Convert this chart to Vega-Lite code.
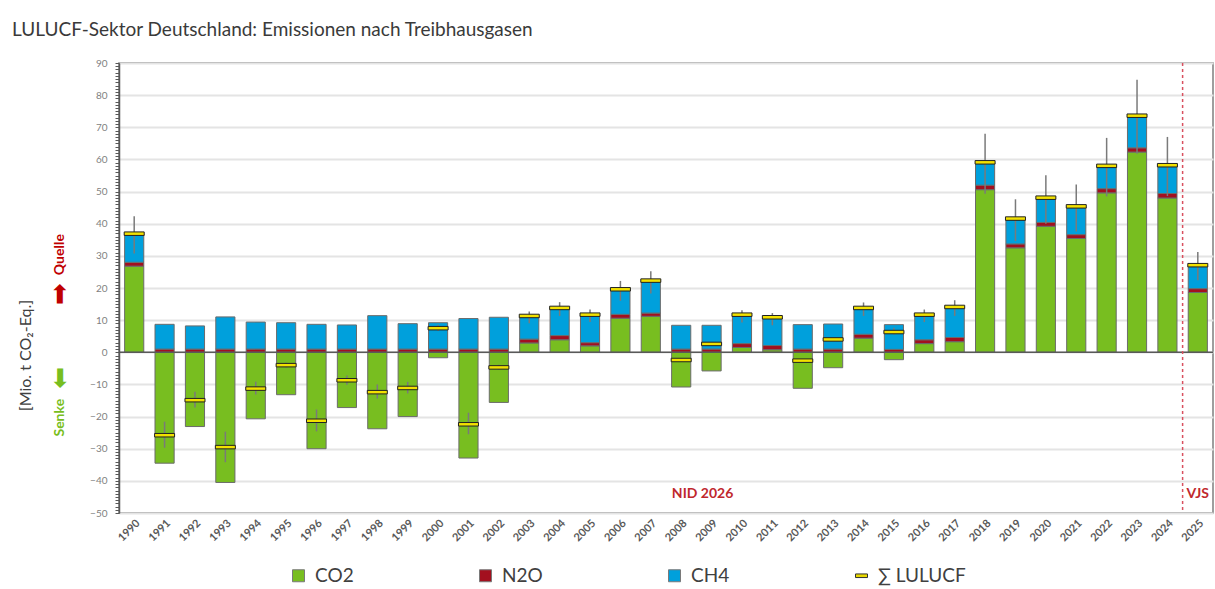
{
  "$schema": "https://vega.github.io/schema/vega-lite/v6.json",
  "width": 1094,
  "height": 450,
  "autosize": {"type": "none"},
  "padding": {"left": 119, "top": 63, "right": 2, "bottom": 76},
  "background": "white",
  "config": {
    "font": "Lato",
    "view": {"stroke": "#7f7f7f", "strokeWidth": 1.5}
  },
  "title": {
    "text": "LULUCF-Sektor Deutschland: Emissionen nach Treibhausgasen",
    "anchor": "start",
    "frame": "group",
    "dx": -107,
    "offset": 18,
    "fontSize": 19,
    "fontWeight": "normal",
    "color": "#3a3a3a"
  },
  "data": {
    "values": [
      {"year": "1990", "CO2": 26.8, "N2O": 1.2, "CH4": 8.9, "total": 36.9, "lo": 30.7, "hi": 42.3},
      {"year": "1991", "CO2": -34.5, "N2O": 1.0, "CH4": 7.7, "total": -25.8, "lo": -29.7, "hi": -21.6},
      {"year": "1992", "CO2": -23.1, "N2O": 1.0, "CH4": 7.2, "total": -14.9, "lo": -17.2, "hi": -12.3},
      {"year": "1993", "CO2": -40.5, "N2O": 1.0, "CH4": 10.0, "total": -29.5, "lo": -34.2, "hi": -24.7},
      {"year": "1994", "CO2": -20.7, "N2O": 1.0, "CH4": 8.4, "total": -11.3, "lo": -13.1, "hi": -9.2},
      {"year": "1995", "CO2": -13.2, "N2O": 1.0, "CH4": 8.2, "total": -4.0, "lo": -4.8, "hi": -3.2},
      {"year": "1996", "CO2": -30.0, "N2O": 1.0, "CH4": 7.7, "total": -21.3, "lo": -24.6, "hi": -17.8},
      {"year": "1997", "CO2": -17.2, "N2O": 1.0, "CH4": 7.5, "total": -8.7, "lo": -10.1, "hi": -7.2},
      {"year": "1998", "CO2": -23.8, "N2O": 1.0, "CH4": 10.4, "total": -12.4, "lo": -14.4, "hi": -10.0},
      {"year": "1999", "CO2": -20.0, "N2O": 1.0, "CH4": 7.9, "total": -11.1, "lo": -12.8, "hi": -9.2},
      {"year": "2000", "CO2": -1.7, "N2O": 1.0, "CH4": 8.2, "total": 7.5, "lo": 6.6, "hi": 8.6},
      {"year": "2001", "CO2": -32.9, "N2O": 1.0, "CH4": 9.5, "total": -22.4, "lo": -25.5, "hi": -18.8},
      {"year": "2002", "CO2": -15.6, "N2O": 1.0, "CH4": 9.9, "total": -4.7, "lo": -5.5, "hi": -3.9},
      {"year": "2003", "CO2": 2.9, "N2O": 1.2, "CH4": 7.2, "total": 11.3, "lo": 9.0, "hi": 12.7},
      {"year": "2004", "CO2": 3.9, "N2O": 1.3, "CH4": 8.6, "total": 13.8, "lo": 11.3, "hi": 15.6},
      {"year": "2005", "CO2": 2.0, "N2O": 1.0, "CH4": 8.7, "total": 11.7, "lo": 9.4, "hi": 13.3},
      {"year": "2006", "CO2": 10.6, "N2O": 1.2, "CH4": 7.8, "total": 19.6, "lo": 16.0, "hi": 22.2},
      {"year": "2007", "CO2": 11.2, "N2O": 1.0, "CH4": 10.1, "total": 22.3, "lo": 18.3, "hi": 25.2},
      {"year": "2008", "CO2": -10.8, "N2O": 1.0, "CH4": 7.4, "total": -2.4, "lo": -2.9, "hi": -1.9},
      {"year": "2009", "CO2": -5.8, "N2O": 1.0, "CH4": 7.4, "total": 2.6, "lo": 2.1, "hi": 3.1},
      {"year": "2010", "CO2": 1.5, "N2O": 1.2, "CH4": 9.0, "total": 11.7, "lo": 9.3, "hi": 13.1},
      {"year": "2011", "CO2": 0.8, "N2O": 1.3, "CH4": 8.8, "total": 10.9, "lo": 8.4, "hi": 12.2},
      {"year": "2012", "CO2": -11.2, "N2O": 1.0, "CH4": 7.6, "total": -2.6, "lo": -3.1, "hi": -2.1},
      {"year": "2013", "CO2": -4.8, "N2O": 1.0, "CH4": 7.8, "total": 4.0, "lo": 3.5, "hi": 4.5},
      {"year": "2014", "CO2": 4.4, "N2O": 1.2, "CH4": 8.2, "total": 13.8, "lo": 11.3, "hi": 15.5},
      {"year": "2015", "CO2": -2.3, "N2O": 0.9, "CH4": 7.7, "total": 6.3, "lo": 5.5, "hi": 7.6},
      {"year": "2016", "CO2": 2.7, "N2O": 1.2, "CH4": 7.8, "total": 11.7, "lo": 9.4, "hi": 13.3},
      {"year": "2017", "CO2": 3.3, "N2O": 1.3, "CH4": 9.5, "total": 14.1, "lo": 11.3, "hi": 16.2},
      {"year": "2018", "CO2": 50.6, "N2O": 1.4, "CH4": 7.1, "total": 59.1, "lo": 49.3, "hi": 68.0},
      {"year": "2019", "CO2": 32.5, "N2O": 1.2, "CH4": 7.9, "total": 41.6, "lo": 34.6, "hi": 47.6},
      {"year": "2020", "CO2": 39.2, "N2O": 1.2, "CH4": 7.7, "total": 48.1, "lo": 40.0, "hi": 55.1},
      {"year": "2021", "CO2": 35.4, "N2O": 1.2, "CH4": 8.8, "total": 45.4, "lo": 37.6, "hi": 52.2},
      {"year": "2022", "CO2": 49.6, "N2O": 1.3, "CH4": 7.1, "total": 58.0, "lo": 48.5, "hi": 66.7},
      {"year": "2023", "CO2": 62.3, "N2O": 1.3, "CH4": 10.0, "total": 73.6, "lo": 61.8, "hi": 84.8},
      {"year": "2024", "CO2": 48.0, "N2O": 1.4, "CH4": 8.8, "total": 58.2, "lo": 48.6, "hi": 67.0},
      {"year": "2025", "CO2": 18.6, "N2O": 1.2, "CH4": 7.3, "total": 27.1, "lo": 22.4, "hi": 31.2}
    ]
  },
  "layer": [
    {
      "transform": [
        {"fold": ["CO2", "N2O", "CH4"], "as": ["gas", "val"]},
        {"window": [{"op": "row_number", "as": "rn"}], "groupby": ["year"]}
      ],
      "mark": {"type": "bar", "width": {"band": 0.63}, "stroke": "#6b6b6b", "strokeWidth": 1},
      "encoding": {
        "x": {
          "field": "year",
          "type": "nominal",
          "scale": {"paddingInner": 0, "paddingOuter": 0},
          "axis": {
            "title": null,
            "domain": false,
            "ticks": false,
            "labelAngle": -45,
            "labelFontSize": 11,
            "labelColor": "#595959",
            "labelFontWeight": "bold",
            "labelPadding": 4
          }
        },
        "y": {
          "field": "val",
          "type": "quantitative",
          "stack": "zero",
          "scale": {"domain": [-50, 90], "nice": false, "zero": false},
          "axis": {
            "title": "[Mio. t CO₂-Eq.]",
            "titleFontSize": 16,
            "titleFontWeight": "normal",
            "titleColor": "#404040",
            "titleX": -94,
            "titleY": 292,
            "titleAngle": -90,
            "titleBaseline": "middle",
            "tickCount": 140,
            "labelOverlap": false,
            "labelFlush": false,
            "labelExpr": "datum.value % 10 === 0 ? datum.label : ''",
            "labelFontSize": 10,
            "labelColor": "#7f7f7f",
            "labelPadding": 8,
            "domainColor": "#595959",
            "domainWidth": 1.5,
            "tickColor": "#595959",
            "tickSize": 4,
            "gridColor": "#e4e4e4",
            "gridWidth": 2,
            "gridOpacity": {"condition": {"test": "datum.value % 10 === 0", "value": 1}, "value": 0}
          }
        },
        "color": {
          "field": "gas",
          "type": "nominal",
          "scale": {
            "domain": ["CO2", "N2O", "CH4", "∑ LULUCF"],
            "range": ["#78be20", "#a3101f", "#00a0dc", "#e8d800"]
          },
          "legend": {
            "orient": "none",
            "legendX": 170,
            "legendY": 503,
            "direction": "horizontal",
            "title": null,
            "columnPadding": 122,
            "symbolSize": 144,
            "symbolType": "square",
            "symbolStrokeColor": "#7a7a7a",
            "symbolStrokeWidth": 1,
            "symbolOffset": 0,
            "labelFontSize": 19,
            "labelColor": "#404040",
            "labelOffset": 7,
            "encode": {
              "symbols": {
                "update": {
                  "shape": {"signal": "datum.label === '∑ LULUCF' ? 'M-1,-0.3H1V0.3H-1Z' : 'square'"},
                  "stroke": {"signal": "datum.label === '∑ LULUCF' ? '#333' : '#7a7a7a'"}
                }
              }
            }
          }
        },
        "order": {"field": "rn", "type": "quantitative"}
      }
    },
    {
      "data": {"values": [{"v": 0}]},
      "mark": {"type": "rule", "color": "#595959", "strokeWidth": 1.5},
      "encoding": {"y": {"field": "v", "type": "quantitative"}}
    },
    {
      "mark": {"type": "rule", "color": "#7a7a7a", "strokeWidth": 1.5},
      "encoding": {
        "x": {"field": "year", "type": "nominal"},
        "y": {"field": "lo", "type": "quantitative"},
        "y2": {"field": "hi"}
      }
    },
    {
      "mark": {"type": "tick", "orient": "horizontal", "size": 20, "thickness": 3.5, "color": "#f2e100", "stroke": "#222222", "strokeWidth": 1, "opacity": 1},
      "encoding": {
        "x": {"field": "year", "type": "nominal"},
        "y": {"field": "total", "type": "quantitative"}
      }
    },
    {
      "data": {"values": [{"year": "2025"}]},
      "mark": {"type": "rule", "color": "#d9505f", "strokeWidth": 1.5, "strokeDash": [3, 3]},
      "encoding": {"x": {"field": "year", "type": "nominal", "bandPosition": 0}}
    },
    {
      "data": {"values": [{"t": "NID 2026"}]},
      "mark": {"type": "text", "fontSize": 14, "fontWeight": "bold", "color": "#c0282d", "dx": -9},
      "encoding": {"x": {"datum": "2009"}, "y": {"datum": -44}, "text": {"field": "t"}}
    },
    {
      "data": {"values": [{"t": "VJS"}]},
      "mark": {"type": "text", "fontSize": 14, "fontWeight": "bold", "color": "#c0282d"},
      "encoding": {"x": {"datum": "2025"}, "y": {"datum": -44}, "text": {"field": "t"}}
    },
    {
      "data": {"values": [{"t": "Quelle"}]},
      "mark": {"type": "text", "angle": 270, "align": "left", "baseline": "middle", "dy": -59, "fontSize": 14, "fontWeight": "bold", "color": "#c00000"},
      "encoding": {"x": {"datum": "1990", "bandPosition": 0}, "y": {"datum": 24}, "text": {"field": "t"}}
    },
    {
      "data": {"values": [{"t": "➡"}]},
      "mark": {"type": "text", "angle": 270, "align": "center", "baseline": "middle", "dy": -59, "fontSize": 26, "color": "#c00000"},
      "encoding": {"x": {"datum": "1990", "bandPosition": 0}, "y": {"datum": 18}, "text": {"field": "t"}}
    },
    {
      "data": {"values": [{"t": "➡"}]},
      "mark": {"type": "text", "angle": 90, "align": "center", "baseline": "middle", "dy": 59, "fontSize": 26, "color": "#78be20"},
      "encoding": {"x": {"datum": "1990", "bandPosition": 0}, "y": {"datum": -8}, "text": {"field": "t"}}
    },
    {
      "data": {"values": [{"t": "Senke"}]},
      "mark": {"type": "text", "angle": 270, "align": "right", "baseline": "middle", "dy": -59, "fontSize": 14, "fontWeight": "bold", "color": "#78be20"},
      "encoding": {"x": {"datum": "1990", "bandPosition": 0}, "y": {"datum": -14.5}, "text": {"field": "t"}}
    }
  ]
}
